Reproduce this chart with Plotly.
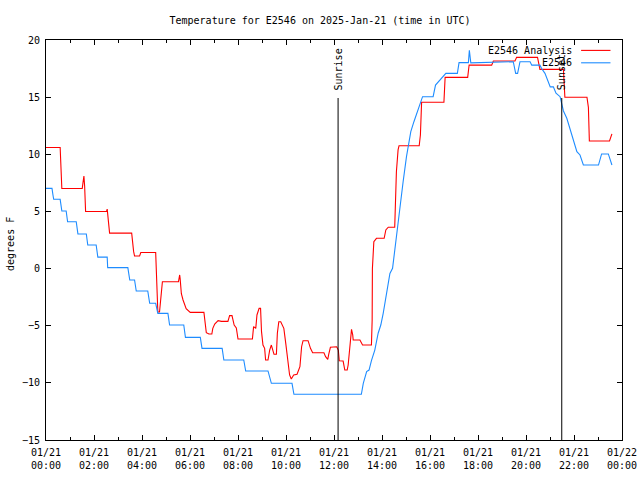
import plotly.graph_objects as go
import pandas as pd

# ---- data (hours after 2025-01-21 00:00 UTC, degrees F) ----
analysis_hours = [0.0, 0.59, 0.66, 1.51, 1.54, 1.58, 1.61, 1.65, 2.52, 2.55, 2.65,
                  3.57, 3.65, 3.69, 3.90, 3.95, 4.57, 4.62, 4.66, 4.73, 4.78, 4.85,
                  5.52, 5.57, 5.59, 5.64, 5.71, 5.84, 6.01, 6.58, 6.68, 6.79, 6.91,
                  6.95, 7.03, 7.17, 7.31, 7.58, 7.65, 7.75, 7.84, 7.93, 8.00, 8.60,
                  8.65, 8.74, 8.79, 8.88, 8.94, 8.98, 9.04, 9.11, 9.15, 9.25, 9.32,
                  9.39, 9.50, 9.60, 9.64, 9.70, 9.78, 9.91, 9.99, 10.09, 10.15, 10.22,
                  10.32, 10.46, 10.58, 10.65, 10.71, 10.92, 11.02, 11.11, 11.58, 11.65,
                  11.74, 11.78, 11.85, 12.11, 12.18, 12.22, 12.38, 12.45, 12.55, 12.59,
                  12.66, 12.73, 12.78, 12.80, 13.08, 13.19, 13.56, 13.59, 13.60, 13.66,
                  13.77, 14.09, 14.16, 14.26, 14.53, 14.56, 14.60, 14.67, 14.71, 15.55,
                  15.60, 15.65, 16.58, 16.63, 17.57, 17.63, 18.57, 18.64, 19.54, 19.61,
                  20.48, 20.58, 21.56, 21.62, 22.54, 22.60, 22.64, 23.48, 23.58]
analysis_temp = [10.6, 10.6, 7.0, 7.0, 7.5, 8.1, 7.2, 5.0, 5.0, 5.2, 3.1,
                 3.1, 1.5, 1.1, 1.1, 1.4, 1.4, -2.0, -3.8, -3.8, -2.8, -1.15,
                 -1.15, -0.56, -0.9, -2.2, -2.75, -3.5, -3.83, -3.83, -5.61, -5.73, -5.73,
                 -5.23, -4.85, -4.56, -4.62, -4.62, -4.12, -4.12, -4.94, -5.2, -6.16, -6.16,
                 -5.08, -5.23, -4.06, -3.48, -3.48, -5.52, -6.69, -6.98, -8.0, -8.0, -7.13,
                 -6.69, -7.5, -7.5, -5.66, -4.65, -4.65, -5.23, -6.54, -8.0, -9.31, -9.66,
                 -9.31, -9.25, -8.59, -6.84, -6.31, -6.31, -6.98, -7.36, -7.36, -7.71,
                 -7.94, -7.5, -6.89, -6.84, -7.13, -8.06, -8.09, -8.88, -8.88, -8.44,
                 -6.69, -5.32, -5.8, -6.25, -6.25, -6.69, -6.69, -4.5, 0.0, 2.35,
                 2.65, 2.65, 3.38, 3.62, 3.62, 5.13, 8.48, 10.38, 10.75, 10.75,
                 11.69, 14.55, 14.55, 16.73, 16.73, 17.81, 17.8, 18.16, 18.16, 18.48,
                 18.48, 17.43, 17.43, 14.99, 14.99, 14.11, 11.16, 11.16, 11.78]

obs_hours = [0.0, 0.25, 0.29, 0.32, 0.59, 0.66, 0.84, 0.90, 1.26, 1.33, 1.68, 1.74,
             2.09, 2.16, 2.55, 2.57, 3.41, 3.49, 3.69, 3.76, 4.24, 4.32, 4.57, 4.66,
             5.08, 5.15, 5.74, 5.81, 6.43, 6.50, 7.34, 7.41, 8.24, 8.32, 9.25, 9.39,
             10.25, 10.33, 13.14, 13.22, 13.36, 13.46, 13.56, 13.70, 13.84, 13.95,
             14.05, 14.19, 14.33, 14.44, 14.53, 14.63, 14.74, 14.88, 15.02, 15.09,
             15.20, 15.33, 15.51, 15.69, 16.13, 16.23, 16.66, 17.14, 17.21, 17.60,
             17.64, 17.70, 19.47, 19.57, 19.65, 19.75, 20.17, 20.24, 20.58, 20.65,
             20.79, 20.87, 21.01, 21.14, 21.25, 21.42, 21.56, 21.70, 21.84, 21.98,
             22.12, 22.25, 22.39, 23.02, 23.15, 23.43, 23.58]
obs_temp = [7.02, 7.02, 6.44, 6.06, 6.06, 5.04, 5.04, 4.1, 4.1, 3.03, 3.03, 2.06,
            2.06, 1.0, 1.0, 0.08, 0.08, -1.0, -1.0, -1.96, -1.96, -3.04, -3.04, -3.92,
            -3.92, -4.94, -4.94, -6.02, -6.02, -6.98, -6.98, -8.0, -8.0, -8.96, -8.96, -10.04,
            -10.04, -11.0, -11.0, -10.04, -9.02, -8.88, -8.06, -7.13, -5.66, -4.94,
            -3.92, -2.17, -0.42, 0.02, 1.63, 3.52, 5.42, 7.6, 9.79, 10.81,
            11.98, 12.85, 14.02, 15.04, 15.04, 16.06, 17.08, 17.08, 18.02, 18.02,
            19.1, 18.0, 18.1, 17.08, 17.08, 18.1, 18.1, 17.8, 17.8, 17.5,
            17.08, 16.7, 15.9, 15.9, 15.34, 15.04, 13.79, 13.15, 12.13, 11.05,
            10.23, 9.94, 9.06, 9.06, 10.03, 10.03, 9.06]

sun_hours = [12.17, 21.49]
sun_labels = ["Sunrise", "Sunset"]

tick_hours = list(range(0, 25, 2))
tick_text = ["01/21<br>%02d:00" % h for h in range(0, 24, 2)] + ["01/22<br>00:00"]

series_names = ["E2546 Analysis", "E2546"]
series_colors = ["#ff0000", "#1e8cff"]

base = pd.Timestamp("2025-01-21 00:00")
def to_time(hours):
    return [base + pd.Timedelta(hours=h) for h in hours]

FONT = "DejaVu Sans Mono"
fig = go.Figure()
fig.add_trace(go.Scatter(x=to_time(analysis_hours), y=analysis_temp, mode="lines",
                         name=series_names[0], line=dict(color=series_colors[0], width=1.1)))
fig.add_trace(go.Scatter(x=to_time(obs_hours), y=obs_temp, mode="lines",
                         name=series_names[1], line=dict(color=series_colors[1], width=1.1)))

for t, lab in zip(to_time(sun_hours), sun_labels):
    fig.add_shape(type="line", xref="x", yref="paper", x0=t, x1=t, y0=0, y1=0.855,
                  line=dict(color="black", width=1))
    fig.add_annotation(x=t, xref="x", y=0.869, yref="paper", text=lab, textangle=-90,
                       showarrow=False, xanchor="center", yanchor="bottom",
                       font=dict(family=FONT, size=10, color="black"))

# legend (text left of sample, like gnuplot)
leg_y = [0.974, 0.943]
for name, col, yy in zip(series_names, series_colors, leg_y):
    fig.add_annotation(x=0.917, xref="paper", y=yy, yref="paper", text=name,
                       showarrow=False, xanchor="right", yanchor="middle",
                       font=dict(family=FONT, size=10, color="black"))
    fig.add_shape(type="line", xref="paper", yref="paper", x0=0.929, x1=0.980,
                  y0=yy, y1=yy, line=dict(color=col, width=1.1))

# y-axis title
fig.add_annotation(x=-36 / 575.7, xref="paper", y=0.49, yref="paper", text="degrees F",
                   textangle=-90, showarrow=False, xanchor="center", yanchor="middle",
                   font=dict(family=FONT, size=10, color="black"))

fig.update_layout(
    width=640, height=480,
    margin=dict(l=46, r=18, t=40, b=40),
    paper_bgcolor="white", plot_bgcolor="white",
    showlegend=False,
    title=dict(text="Temperature for E2546 on 2025-Jan-21 (time in UTC)",
               x=0.5, xanchor="center", y=1 - 20 / 480, yanchor="middle",
               font=dict(family=FONT, size=10, color="black")),
    font=dict(family=FONT, size=10, color="black"),
)
fig.update_xaxes(
    type="date", automargin=False,
    range=[base, base + pd.Timedelta(hours=24)],
    tickvals=to_time(tick_hours), ticktext=tick_text,
    ticks="inside", ticklen=5, tickcolor="black", ticklabelstandoff=3,
    minor=dict(dtick=3600000, ticks="inside", ticklen=3, tickcolor="black"),
    showline=True, linecolor="black", linewidth=1, mirror="ticks",
    showgrid=False, zeroline=False,
    tickfont=dict(family=FONT, size=10, color="black"),
)
fig.update_yaxes(
    automargin=False,
    range=[-15, 20], dtick=5, tick0=0,
    ticks="inside", ticklen=5, tickcolor="black", ticklabelstandoff=3,
    showline=True, linecolor="black", linewidth=1, mirror="ticks",
    showgrid=False, zeroline=False,
    tickfont=dict(family=FONT, size=10, color="black"),
)

fig.write_html("out.html", config={"displayModeBar": False},
               post_script="document.body.style.margin='0px';document.body.style.overflow='hidden';")
